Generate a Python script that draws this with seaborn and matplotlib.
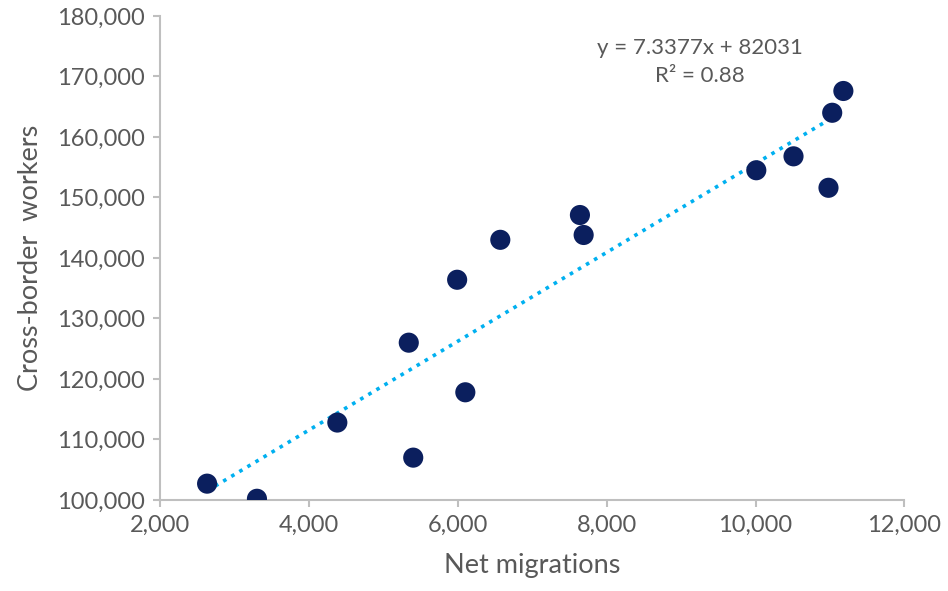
import numpy as np
import pandas as pd
import seaborn as sns
import matplotlib.pyplot as plt
from matplotlib.ticker import FuncFormatter

# values
net_migrations = [2630, 3300, 4380, 5340, 5400, 5990, 6100, 6570, 7640, 7690,
                  10010, 10510, 10980, 11030, 11180]
cross_border = [102700, 100200, 112800, 126000, 107000, 136400, 117800, 143000,
                147100, 143800, 154500, 156800, 151600, 164000, 167600]
equation_text = "y = 7.3377x + 82031\nR\u00b2 = 0.88"

df = pd.DataFrame({"net": net_migrations, "workers": cross_border})

sns.set_theme(style="ticks")
plt.rcParams["font.family"] = ["Lato", "DejaVu Sans"]
GREY = "#595959"

fig = plt.figure(figsize=(9.48, 5.91), dpi=100)
ax = fig.add_axes([0.169, 0.154, 0.785, 0.819])

sns.regplot(data=df, x="net", y="workers", ax=ax, ci=None, scatter=False,
            line_kws={"color": "#00B0F0", "linestyle": (0, (1, 1.6)),
                      "linewidth": 2.6})
sns.scatterplot(data=df, x="net", y="workers", ax=ax, s=210,
                color="#0B1F5E", edgecolor="none", zorder=3)

ax.set_xlim(2000, 12000)
ax.set_ylim(100000, 180000)
ax.set_xticks(range(2000, 12001, 2000))
ax.set_yticks(range(100000, 180001, 10000))
fmt = FuncFormatter(lambda v, p: f"{int(v):,}")
ax.xaxis.set_major_formatter(fmt)
ax.yaxis.set_major_formatter(fmt)

for side in ["top", "right"]:
    ax.spines[side].set_visible(False)
for side in ["left", "bottom"]:
    ax.spines[side].set_color("#BFBFBF")
    ax.spines[side].set_linewidth(1.5)
ax.tick_params(axis="both", colors="#BFBFBF", labelcolor=GREY, labelsize=17,
               length=5, width=1.5, direction="out", pad=6)

ax.set_xlabel("Net migrations", fontsize=19.5, color=GREY, labelpad=12)
ax.set_ylabel("Cross-border  workers", fontsize=19.5, color=GREY, labelpad=10)

ax.text(9250, 172400, equation_text, ha="center", va="center",
        fontsize=16, color=GREY, linespacing=1.55)

fig.savefig("out.png", dpi=100)
